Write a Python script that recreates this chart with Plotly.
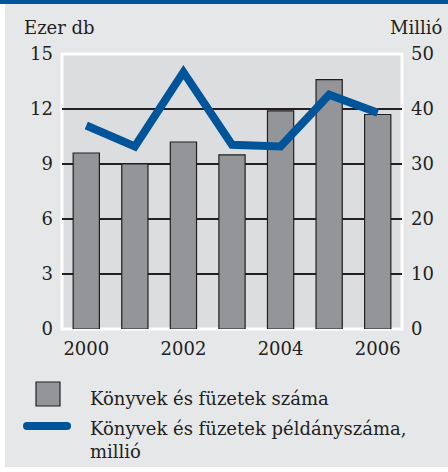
import plotly.graph_objects as go

years = [2000, 2001, 2002, 2003, 2004, 2005, 2006]
books_count = [9.6, 9.0, 10.2, 9.5, 11.9, 13.6, 11.7]          # ezer db (left axis)
copies_million = [37.0, 33.2, 46.7, 33.5, 33.2, 42.6, 39.3]    # millió (right axis)
left_ticks = [0, 3, 6, 9, 12, 15]
right_ticks = [0, 10, 20, 30, 40, 50]
x_ticks = [2000, 2002, 2004, 2006]
legend_bar = "Könyvek és füzetek száma"
legend_line = "Könyvek és füzetek példányszáma,<br>millió"

W, H = 448, 472
L, R, T, B = 62, 46, 54, 143
PW, PH = W - L - R, H - T - B

def xp(px):
    return (px - L) / PW

def yp(py):
    return (H - B - py) / PH

FONT = "DejaVu Serif"
TXT = "#231f20"
BLUE = "#00559a"
BARC = "#939598"

fig = go.Figure()
fig.add_trace(go.Bar(x=years, y=books_count, width=0.54,
                     marker=dict(color=BARC, line=dict(color=TXT, width=1.2)),
                     name=legend_bar, yaxis="y"))
fig.add_trace(go.Scatter(x=years, y=copies_million, mode="lines",
                         line=dict(color=BLUE, width=8),
                         name=legend_line, yaxis="y2"))

shapes = []
# top blue band
shapes.append(dict(type="rect", xref="paper", yref="paper", x0=xp(0), x1=xp(W),
                   y0=yp(4), y1=yp(0), fillcolor=BLUE, line=dict(width=0), layer="above"))
# white left strip & bottom strip
shapes.append(dict(type="rect", xref="paper", yref="paper", x0=xp(0), x1=xp(5),
                   y0=yp(H), y1=yp(4), fillcolor="white", line=dict(width=0), layer="above"))
shapes.append(dict(type="rect", xref="paper", yref="paper", x0=xp(0), x1=xp(W),
                   y0=yp(H), y1=yp(467), fillcolor="white", line=dict(width=0), layer="above"))
# white border around plot area
shapes.append(dict(type="rect", xref="paper", yref="paper", x0=0, x1=1, y0=0, y1=1,
                   line=dict(color="white", width=3), fillcolor="rgba(0,0,0,0)", layer="between"))
# legend swatches
shapes.append(dict(type="rect", xref="paper", yref="paper", x0=xp(36), x1=xp(60),
                   y0=yp(406), y1=yp(382), fillcolor=BARC, line=dict(color=TXT, width=1.2),
                   layer="above"))
shapes.append(dict(type="rect", xref="paper", yref="paper", x0=xp(27), x1=xp(67),
                   y0=yp(430), y1=yp(422), fillcolor=BLUE, line=dict(width=0), layer="above"))
for cx in (27, 67):
    shapes.append(dict(type="circle", xref="paper", yref="paper", x0=xp(cx - 4), x1=xp(cx + 4),
                       y0=yp(430), y1=yp(422), fillcolor=BLUE, line=dict(width=0), layer="above"))

annotations = [
    dict(text="Ezer db", xref="paper", yref="paper", x=xp(22), y=yp(27),
         xanchor="left", yanchor="middle", showarrow=False, font=dict(family=FONT, size=18, color=TXT)),
    dict(text="Millió", xref="paper", yref="paper", x=xp(444), y=yp(27),
         xanchor="right", yanchor="middle", showarrow=False, font=dict(family=FONT, size=18, color=TXT)),
    dict(text=legend_bar, xref="paper", yref="paper", x=xp(88), y=yp(398),
         xanchor="left", yanchor="middle", showarrow=False, align="left",
         font=dict(family=FONT, size=18, color=TXT)),
    dict(text=legend_line, xref="paper", yref="paper", x=xp(88), y=yp(416),
         xanchor="left", yanchor="top", showarrow=False, align="left",
         font=dict(family=FONT, size=18, color=TXT)),
]

fig.update_layout(
    width=W, height=H,
    margin=dict(l=L, r=R, t=T, b=B, pad=0),
    paper_bgcolor="#e6e7e9",
    plot_bgcolor="#dcdddf",
    showlegend=False,
    bargap=0,
    font=dict(family=FONT, size=18, color=TXT),
    xaxis=dict(range=[1999.5, 2006.5], tickvals=x_ticks, ticks="", showgrid=False,
               zeroline=False, showline=False, ticklabelstandoff=7,
               tickfont=dict(family=FONT, size=18, color=TXT)),
    yaxis=dict(range=[0, 15], tickvals=left_ticks, ticks="", showgrid=True,
               gridcolor=TXT, gridwidth=1.3, zeroline=False, showline=False,
               ticklabelstandoff=8, tickfont=dict(family=FONT, size=18, color=TXT)),
    yaxis2=dict(range=[0, 50], tickvals=right_ticks, ticks="", overlaying="y", side="right",
                showgrid=False, zeroline=False, showline=False, ticklabelstandoff=8,
                tickfont=dict(family=FONT, size=18, color=TXT)),
    shapes=shapes,
    annotations=annotations,
)

fig.write_html("out.html", config={"displayModeBar": False, "staticPlot": True},
               post_script="document.body.style.margin='0';document.body.style.overflow='hidden';")
